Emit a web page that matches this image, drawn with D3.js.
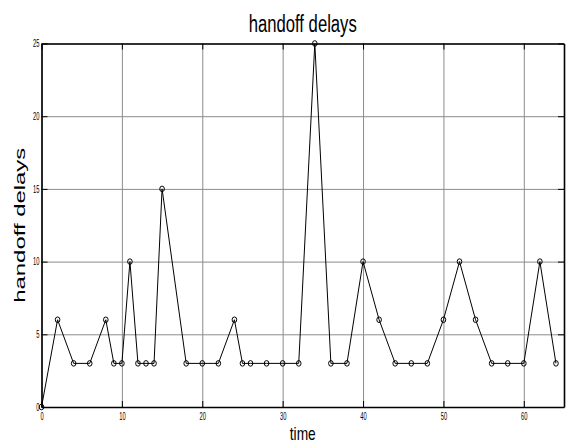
<!DOCTYPE html>
<html>
<head>
<meta charset="utf-8">
<script src="https://cdn.jsdelivr.net/npm/d3@7"></script>
<style>
  body { margin: 0; background: #fff; }
  svg { display: block; font-family: "Liberation Sans", Arial, sans-serif; }
</style>
</head>
<body>
<svg width="566" height="446"></svg>
<script>
// DATA
var times  = [0, 2, 4, 6, 8, 9, 10, 11, 12, 13, 14, 15, 18, 20, 22, 24, 25, 26, 28, 30, 32,
              34, 36, 38, 40, 42, 44, 46, 48, 50, 52, 54, 56, 58, 60, 62, 64];
var delays = [0, 6, 3, 3, 6, 3, 3, 10, 3, 3, 3, 15, 3, 3, 3, 6, 3, 3, 3, 3, 3,
              25, 3, 3, 10, 6, 3, 3, 3, 6, 10, 6, 3, 3, 3, 10, 3];
var xTicks = [0, 10, 20, 30, 40, 50, 60];
var yTicks = [0, 5, 10, 15, 20, 25];

// SETUP
var svg = d3.select("svg"),
    margin = { top: 43.5, right: 2, bottom: 39, left: 41.5 },
    width = 566 - margin.left - margin.right,
    height = 446 - margin.top - margin.bottom;

var x = d3.scaleLinear().domain([0, 65]).range([0, width]),
    y = d3.scaleLinear().domain([0, 25]).range([height, 0]);

var g = svg.append("g")
    .attr("transform", "translate(" + margin.left + "," + margin.top + ")");

// grid
g.append("g")
    .attr("class", "grid")
    .attr("transform", "translate(0," + height + ")")
    .call(d3.axisBottom(x).tickValues(xTicks).tickSize(-height).tickFormat(""));
g.append("g")
    .attr("class", "grid")
    .call(d3.axisLeft(y).tickValues(yTicks).tickSize(-width).tickFormat(""));
g.selectAll(".grid .domain").remove();
g.selectAll(".grid line").attr("stroke", "#8c8c8c").attr("stroke-width", 1);

// axes with inward ticks
var squeeze = function (sel) {
    sel.selectAll("text")
        .attr("font-size", 10)
        .attr("font-family", "Liberation Sans, Arial, sans-serif")
        .attr("fill", "#000")
        .attr("textLength", function (d) { return String(d).length * 3.2; })
        .attr("lengthAdjust", "spacingAndGlyphs");
};

g.append("g")
    .attr("transform", "translate(0," + height + ")")
    .call(d3.axisBottom(x).tickValues(xTicks).tickSize(-6).tickPadding(6).tickSizeOuter(0))
    .call(squeeze);
g.append("g")
    .call(d3.axisTop(x).tickValues(xTicks).tickSize(-6).tickFormat("").tickSizeOuter(0));
g.append("g")
    .call(d3.axisLeft(y).tickValues(yTicks).tickSize(-6).tickPadding(2).tickSizeOuter(0))
    .call(squeeze);
g.append("g")
    .attr("transform", "translate(" + width + ",0)")
    .call(d3.axisRight(y).tickValues(yTicks).tickSize(-6).tickFormat("").tickSizeOuter(0));

g.selectAll(".domain").attr("stroke", "#000").attr("stroke-width", 1.6);
g.selectAll(".tick line").filter(function () { return !this.closest(".grid"); })
    .attr("stroke", "#000");

// line + markers
var pts = times.map(function (t, i) { return { t: t, v: delays[i] }; });

g.append("path")
    .datum(pts)
    .attr("fill", "none")
    .attr("stroke", "#000")
    .attr("stroke-width", 1)
    .attr("d", d3.line()
        .x(function (d) { return x(d.t); })
        .y(function (d) { return y(d.v); }));

g.selectAll(".pt")
    .data(pts)
    .enter().append("ellipse")
    .attr("class", "pt")
    .attr("cx", function (d) { return x(d.t); })
    .attr("cy", function (d) { return y(d.v); })
    .attr("rx", 2.3)
    .attr("ry", 2.8)
    .attr("fill", "none")
    .attr("stroke", "#000")
    .attr("stroke-width", 1);

// TEXT
svg.append("text")
    .attr("x", margin.left + width / 2)
    .attr("y", 32)
    .attr("text-anchor", "middle")
    .attr("font-size", 23)
    .attr("textLength", 108)
    .attr("lengthAdjust", "spacingAndGlyphs")
    .text("handoff delays");

svg.append("text")
    .attr("x", margin.left + width / 2)
    .attr("y", 440)
    .attr("text-anchor", "middle")
    .attr("font-size", 19)
    .attr("textLength", 26)
    .attr("lengthAdjust", "spacingAndGlyphs")
    .text("time");

svg.append("text")
    .attr("transform", "translate(25," + (margin.top + height / 2) + ") rotate(-90)")
    .attr("text-anchor", "middle")
    .attr("font-size", 15)
    .attr("textLength", 155)
    .attr("lengthAdjust", "spacingAndGlyphs")
    .text("handoff delays");
</script>
</body>
</html>
